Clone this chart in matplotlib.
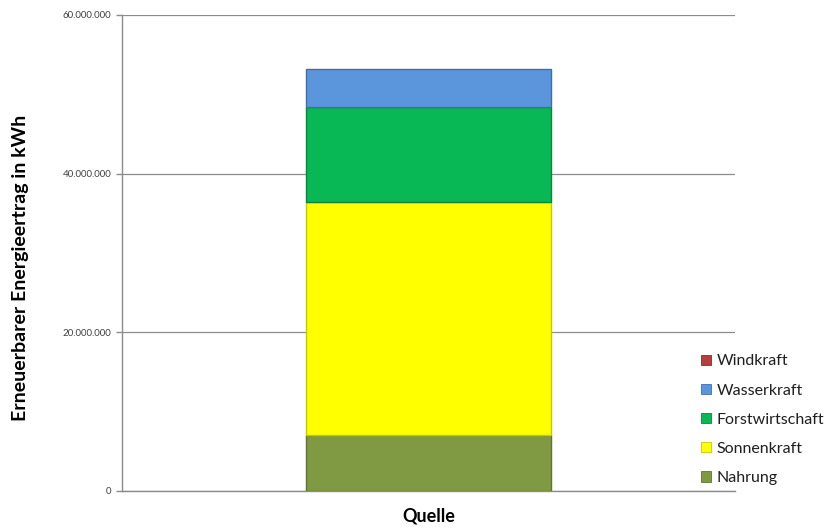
import matplotlib.pyplot as plt
from matplotlib.ticker import FuncFormatter

# data (kWh)
sources = ["Nahrung", "Sonnenkraft", "Forstwirtschaft", "Wasserkraft", "Windkraft"]
values = [7020000, 29450000, 11900000, 4800000, 50000]
colors = ["#7f9a42", "#ffff00", "#08b854", "#5b96dc", "#b0413e"]
edges = ["#5f7432", "#c8c800", "#06873d", "#3f6fa8", "#80302d"]
yticks = [0, 20000000, 40000000, 60000000]

plt.rcParams['font.family'] = ['Lato', 'DejaVu Sans']

fig = plt.figure(figsize=(8.29, 5.28), dpi=100)
ax = fig.add_axes([122 / 829, 37 / 528, 613 / 829, 476 / 528])

bottom = 0
bars = []
for name, v, c, e in zip(sources, values, colors, edges):
    # the wind slice is too thin to show, so no outline on the bar
    lw = 0 if name == "Windkraft" else 1.0
    b = ax.bar(0, v, width=0.4, bottom=bottom, color=c, edgecolor=e,
               linewidth=lw, label=name, zorder=3)
    bars.append(b)
    bottom += v

ax.set_xlim(-0.5, 0.5)
ax.set_ylim(0, 60000000)
ax.set_yticks(yticks)
ax.yaxis.set_major_formatter(FuncFormatter(lambda v, p: f"{int(v):,}".replace(",", ".")))
ax.tick_params(axis='y', labelsize=7, colors="#8c8c8c", labelcolor="#404040", length=4, width=1)
ax.set_xticks([])
ax.grid(axis='y', color="#8c8c8c", linewidth=0.9, zorder=0)

for s in ["top", "right"]:
    ax.spines[s].set_visible(False)
for s in ["left", "bottom"]:
    ax.spines[s].set_color("#8c8c8c")
    ax.spines[s].set_linewidth(1.0)

ax.set_ylabel("Erneuerbarer Energieertrag in kWh", fontsize=14, fontweight="bold")
ax.yaxis.set_label_coords(-0.152, 0.468)
ax.set_xlabel("Quelle", fontsize=13, fontweight="bold", labelpad=12)

# legend, top entry first like the original
handles = [b[0] for b in bars][::-1]
labels = sources[::-1]
leg = fig.legend(handles, labels, loc="upper left", bbox_to_anchor=(687 / 829, 1 - 340 / 528),
                 frameon=False, fontsize=11.5, handlelength=0.6, handleheight=0.6,
                 handletextpad=0.35, labelspacing=0.95, labelcolor="#1f1f1f")
for h, e in zip(leg.legend_handles, edges[::-1]):
    h.set_edgecolor(e)
    h.set_linewidth(0.6)

plt.savefig("out.png")
plt.close()
